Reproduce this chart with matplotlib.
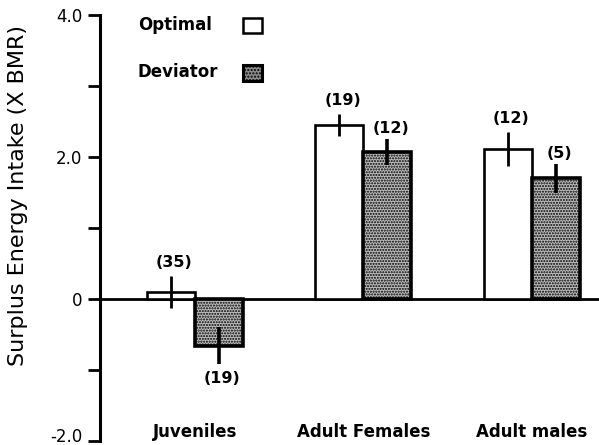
import matplotlib.pyplot as plt
import matplotlib.transforms as mtransforms
import numpy as np

plt.rcParams["hatch.color"] = "#5a5a5a"
plt.rcParams["hatch.linewidth"] = 1.0

# Surplus energy intake by age/sex class, optimal vs deviator foragers
groups = ["Juveniles", "Adult Females", "Adult males"]
optimal = [0.10, 2.45, 2.11]
optimal_err = [0.23, 0.16, 0.24]
optimal_n = [35, 19, 12]
deviator = [-0.66, 2.07, 1.70]
deviator_err = [0.26, 0.18, 0.20]
deviator_n = [19, 12, 5]

yticks = [4.0, 2.0, 0, -2.0]
ytick_labels = ["4.0", "2.0", "0", "-2.0"]

fig = plt.figure(figsize=(5.99, 4.45), dpi=100)
ax = fig.add_axes([100 / 599, 4 / 445, 499 / 599, 426 / 445])

x = np.arange(len(groups))
w = 0.285

ax.bar(x - w / 2, optimal, w, color="white", edgecolor="black", linewidth=1.9,
       zorder=2)
ax.bar(x + w / 2, deviator, w, color="#bcbcbc", edgecolor="black",
       linewidth=2.6, hatch="......", zorder=2)

ax.errorbar(x - w / 2, optimal, yerr=optimal_err, fmt="none", ecolor="black",
            elinewidth=2, capsize=0, zorder=3)
ax.errorbar(x + w / 2, deviator, yerr=deviator_err, fmt="none", ecolor="black",
            elinewidth=2.6, capsize=0, zorder=3)

ax.axhline(0, color="black", lw=2, zorder=1)

lab = dict(ha="center", va="center", fontsize=11.5, fontweight="bold")
for xi, v, e, n in zip(x - w / 2, optimal, optimal_err, optimal_n):
    ax.text(xi + 0.02, v + e + 0.19, f"({n})", **lab)
for xi, v, e, n in zip(x + w / 2, deviator, deviator_err, deviator_n):
    if v < 0:
        ax.text(xi + 0.02, v - e - 0.2, f"({n})", **lab)
    else:
        ax.text(xi + 0.02, v + e + 0.15, f"({n})", **lab)

for xi, g in zip(x, groups):
    ax.text(xi, -1.87, g, ha="center", va="center", fontsize=12,
            fontweight="bold")

ax.set_xlim(-0.564, 2.398)
ax.set_ylim(-2.0, 4.0)
for s in ["top", "right", "bottom"]:
    ax.spines[s].set_visible(False)
ax.spines["left"].set_linewidth(2.2)
ax.set_xticks([])
ax.set_yticks(yticks)
ax.set_yticklabels(ytick_labels, fontsize=12)
ax.set_yticks([3.0, 1.0, -1.0], minor=True)
ax.tick_params(axis="y", which="both", direction="out", length=8.6, width=2,
               pad=4)
# lift the bottom tick label so it stays inside the figure
lift = mtransforms.ScaledTranslation(0, 6 / 100, fig.dpi_scale_trans)
bottom_tick = ax.yaxis.get_major_ticks()[-1]
bottom_tick.label1.set_transform(bottom_tick.label1.get_transform() + lift)

ax.set_ylabel("Surplus Energy Intake (X BMR)", fontsize=16)
ax.yaxis.set_label_coords(-0.144, 0.577)

# legend drawn as text plus swatches
ax.text(0.076, 0.977, "Optimal", transform=ax.transAxes, fontsize=12,
        fontweight="bold", va="center")
ax.text(0.076, 0.866, "Deviator", transform=ax.transAxes, fontsize=12,
        fontweight="bold", va="center")
ax.add_patch(plt.Rectangle((0.286, 0.958), 0.038, 0.036,
                           transform=ax.transAxes, facecolor="white",
                           edgecolor="black", lw=1.8, clip_on=False))
ax.add_patch(plt.Rectangle((0.286, 0.845), 0.038, 0.038,
                           transform=ax.transAxes, facecolor="#8a8a8a",
                           edgecolor="black", lw=2.2, hatch=".....",
                           clip_on=False))

fig.savefig("out.png", dpi=100)
